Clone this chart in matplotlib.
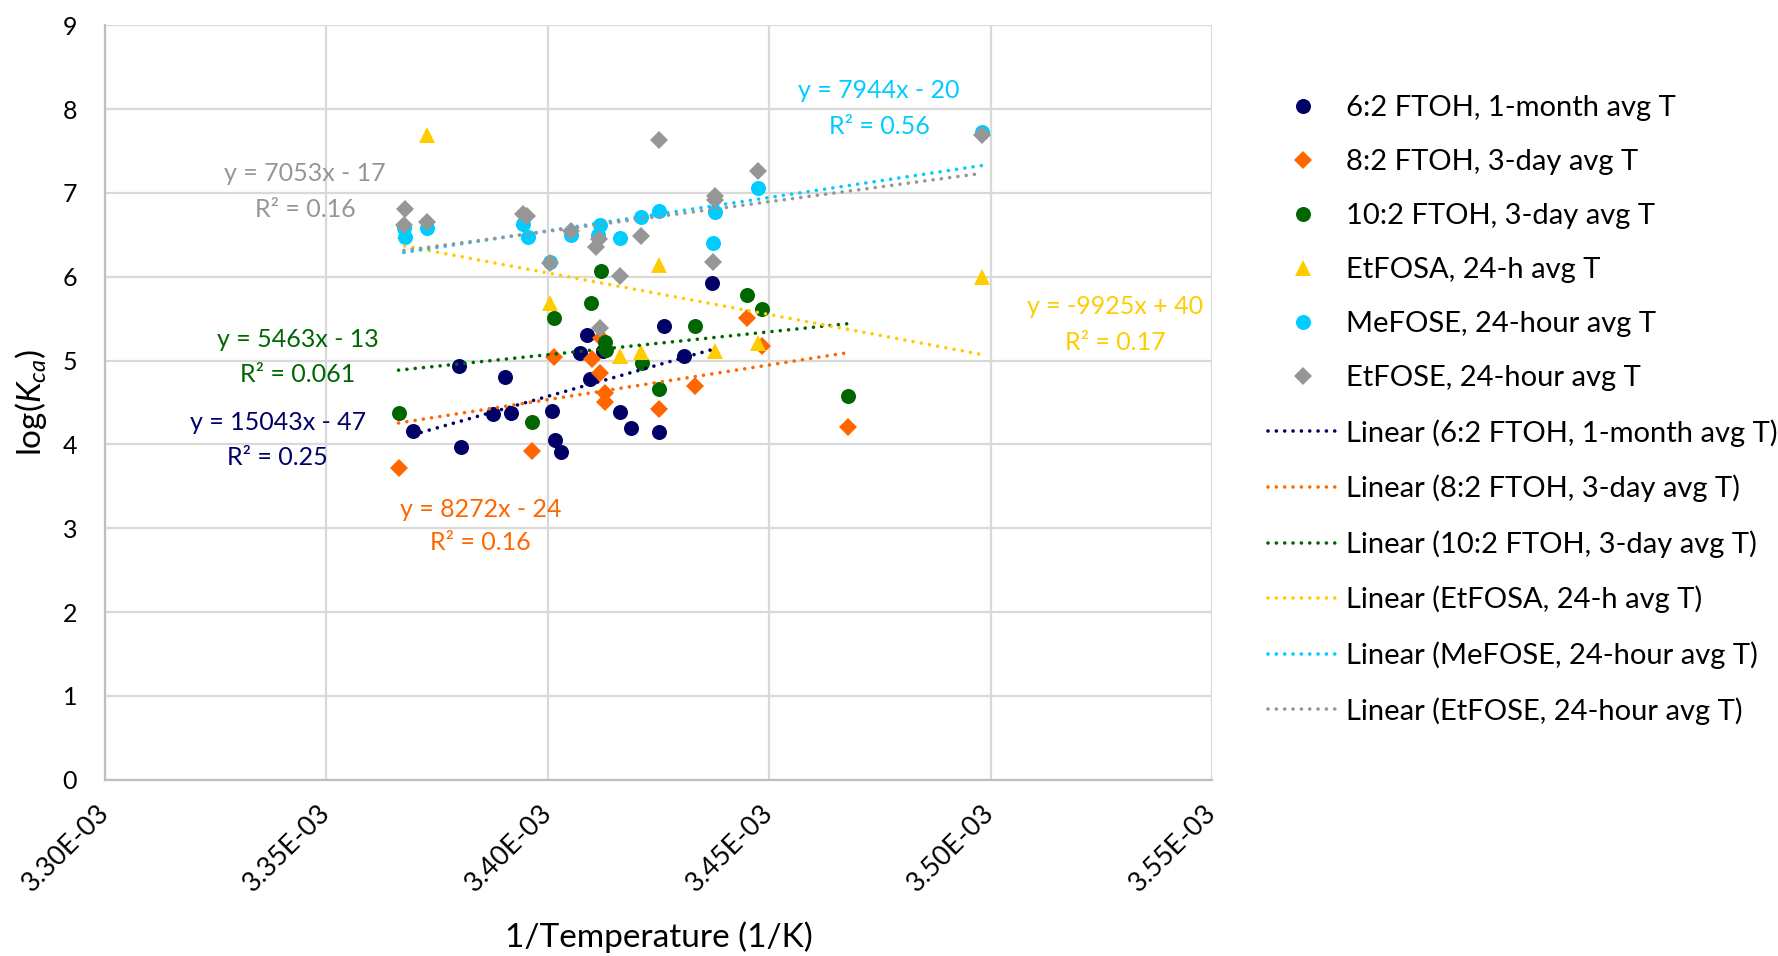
import numpy as np
import matplotlib
matplotlib.use("Agg")
import matplotlib.pyplot as plt
from matplotlib.lines import Line2D
from matplotlib.ticker import FuncFormatter, MultipleLocator

plt.rcParams["font.family"] = ["Lato", "DejaVu Sans"]
plt.rcParams["mathtext.fontset"] = "custom"
plt.rcParams["mathtext.rm"] = "Lato"
plt.rcParams["mathtext.it"] = "Lato:italic"

# ---- data: x = 1/T (1/K), y = log(Kca) ----
ftoh62_x = [3.3696e-3, 3.3799e-3, 3.3805e-3, 3.3876e-3, 3.3904e-3, 3.3917e-3, 3.4009e-3,
            3.4017e-3, 3.4030e-3, 3.4073e-3, 3.4088e-3, 3.4096e-3, 3.4124e-3, 3.4164e-3,
            3.4189e-3, 3.4250e-3, 3.4262e-3, 3.4308e-3, 3.4371e-3]
ftoh62_y = [4.16, 4.94, 3.97, 4.36, 4.80, 4.37, 4.40, 4.05, 3.91, 5.09, 5.30, 4.78, 5.11,
            4.39, 4.19, 4.15, 5.41, 5.05, 5.93]

ftoh82_x = [3.3663e-3, 3.3964e-3, 3.4014e-3, 3.4099e-3, 3.4118e-3, 3.4120e-3, 3.4130e-3,
            3.4130e-3, 3.4252e-3, 3.4332e-3, 3.4449e-3, 3.4483e-3, 3.4678e-3]
ftoh82_y = [3.72, 3.92, 5.04, 5.02, 4.85, 5.27, 4.61, 4.51, 4.42, 4.70, 5.51, 5.17, 4.21]

ftoh102_x = [3.3663e-3, 3.3964e-3, 3.4013e-3, 3.4098e-3, 3.4120e-3, 3.4130e-3, 3.4132e-3,
             3.4212e-3, 3.4250e-3, 3.4332e-3, 3.4449e-3, 3.4483e-3, 3.4678e-3]
ftoh102_y = [4.37, 4.27, 5.51, 5.69, 6.07, 5.22, 5.13, 4.97, 4.66, 5.41, 5.78, 5.62, 4.58]

etfosa_x = [3.3677e-3, 3.3728e-3, 3.4006e-3, 3.4163e-3, 3.4211e-3, 3.4252e-3, 3.4378e-3,
            3.4474e-3, 3.4980e-3]
etfosa_y = [6.55, 7.69, 5.69, 5.06, 5.10, 6.14, 5.11, 5.21, 6.00]

mefose_x = [3.3675e-3, 3.3678e-3, 3.3727e-3, 3.3945e-3, 3.3955e-3, 3.4006e-3, 3.4053e-3,
            3.4117e-3, 3.4113e-3, 3.4163e-3, 3.4211e-3, 3.4252e-3, 3.4374e-3, 3.4378e-3,
            3.4474e-3, 3.4980e-3]
mefose_y = [6.58, 6.47, 6.58, 6.63, 6.47, 6.17, 6.50, 6.62, 6.50, 6.46, 6.71, 6.78, 6.40,
            6.77, 7.06, 7.73]

etfose_x = [3.3678e-3, 3.3675e-3, 3.3727e-3, 3.3945e-3, 3.3954e-3, 3.4006e-3, 3.4053e-3,
            3.4117e-3, 3.4115e-3, 3.4109e-3, 3.4162e-3, 3.4210e-3, 3.4252e-3, 3.4374e-3,
            3.4378e-3, 3.4378e-3, 3.4474e-3, 3.4980e-3]
etfose_y = [6.81, 6.62, 6.65, 6.75, 6.72, 6.16, 6.55, 5.39, 6.45, 6.36, 6.01, 6.48, 7.63,
            6.17, 6.96, 6.92, 7.26, 7.69]

names = ["6:2 FTOH, 1-month avg T", "8:2 FTOH, 3-day avg T", "10:2 FTOH, 3-day avg T",
         "EtFOSA, 24-h avg T", "MeFOSE, 24-hour avg T", "EtFOSE, 24-hour avg T"]
slopes = [15043, 8272, 5463, -9925, 7944, 7053]
intercept_txt = ["- 47", "- 24", "- 13", "+ 40", "- 20", "- 17"]
r2_txt = ["0.25", "0.16", "0.061", "0.17", "0.56", "0.16"]

xs = [ftoh62_x, ftoh82_x, ftoh102_x, etfosa_x, mefose_x, etfose_x]
ys = [ftoh62_y, ftoh82_y, ftoh102_y, etfosa_y, mefose_y, etfose_y]

colors = ["#000066", "#FF6600", "#006600", "#FFCC00", "#00CCFF", "#969696"]
markers = ["o", "D", "o", "^", "o", "D"]
msizes = [10.8, 9.0, 10.8, 11.0, 10.8, 9.0]

# trendline equation label positions (data coords): x, y of equation, y of R²
eq_pos = [(3.3390e-3, 4.26, 3.84), (3.3848e-3, 3.22, 2.83), (3.3435e-3, 5.25, 4.83),
          (3.5281e-3, 5.64, 5.22), (3.4748e-3, 8.22, 7.79), (3.3452e-3, 7.23, 6.80)]

W, H = 1778, 956
fig = plt.figure(figsize=(W / 100, H / 100), dpi=100)
ax = fig.add_axes([105 / W, 1 - 779.7 / H, 1107 / W, 754.5 / H])

ax.set_xlim(3.30e-3, 3.55e-3)
ax.set_ylim(0, 9)
ax.xaxis.set_major_locator(MultipleLocator(0.05e-3))
ax.yaxis.set_major_locator(MultipleLocator(1))
ax.xaxis.set_major_formatter(FuncFormatter(lambda v, p: f"{v:.2E}"))
ax.grid(True, color="#d9d9d9", linewidth=1.6, zorder=0)
ax.set_axisbelow(True)
for s in ["top", "right"]:
    ax.spines[s].set_visible(False)
for s in ["left", "bottom"]:
    ax.spines[s].set_color("#bfbfbf")
    ax.spines[s].set_linewidth(1.6)
ax.tick_params(axis="both", length=0, colors="black")
ax.tick_params(axis="y", pad=20, labelsize=18)
ax.tick_params(axis="x", pad=21, labelsize=19.5)
for lab in ax.get_xticklabels():
    lab.set_rotation(45)
    lab.set_ha("right")
    lab.set_va("center")
    lab.set_rotation_mode("anchor")

dotted = (0, (0.01, 2.3))
handles_pts, handles_lin = [], []
for i in range(6):
    x = np.array(xs[i])
    y = np.array(ys[i])
    h, = ax.plot(x, y, linestyle="none", marker=markers[i], ms=msizes[i],
                 color=colors[i], markeredgewidth=0, zorder=3 + i * 0.01)
    handles_pts.append(h)

for i in range(6):
    x = np.array(xs[i])
    y = np.array(ys[i])
    m = slopes[i]
    b = y.mean() - m * x.mean()   # least-squares line passes through the centroid
    xl = np.array([x.min(), x.max()])
    ax.plot(xl, m * xl + b, color=colors[i], linewidth=2.6,
            linestyle=dotted, dash_capstyle="round", zorder=4)
    handles_lin.append(Line2D([], [], color=colors[i], linewidth=2.6,
                              linestyle=dotted, dash_capstyle="round"))
    ex, ey1, ey2 = eq_pos[i]
    sign_m = "-" if m < 0 else ""
    ax.text(ex, ey1, f"y = {sign_m}{abs(m)}x {intercept_txt[i]}", color=colors[i],
            fontsize=18, ha="center", va="center", zorder=5)
    ax.text(ex, ey2, f"R² = {r2_txt[i]}", color=colors[i], fontsize=18,
            ha="center", va="center", zorder=5)

ax.set_xlabel("1/Temperature (1/K)", fontsize=24)
ax.xaxis.set_label_coords(0.5, -0.2085)
ax.xaxis.label.set_va("center")
ax.set_ylabel(r"log($K_{ca}$)", fontsize=24)
ax.yaxis.set_label_coords(-0.067, 0.5)
ax.yaxis.label.set_va("center")

labels = names + [f"Linear ({n})" for n in names]
leg = fig.legend(handles_pts + handles_lin, labels, loc="upper left",
                 bbox_to_anchor=(1268 / W, 1 - 95 / H), frameon=False, fontsize=21,
                 handlelength=2.4, handletextpad=0.27, labelspacing=0.96,
                 borderpad=0, borderaxespad=0)

fig.savefig("out.png", dpi=100)
